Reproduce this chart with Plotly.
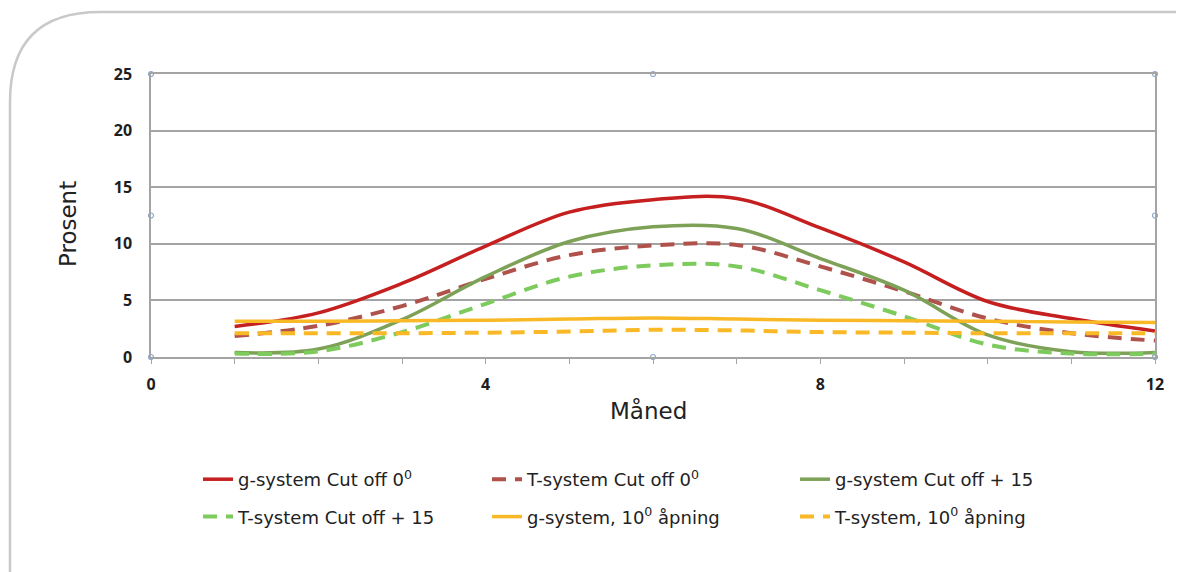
import plotly.graph_objects as go

# ---- data ----
months = list(range(1, 13))
g_cut0 = [2.7, 3.9, 6.5, 9.8, 12.8, 13.9, 14.0, 11.4, 8.4, 4.9, 3.4, 2.3]
t_cut0 = [1.85, 2.75, 4.5, 6.9, 9.0, 9.85, 9.9, 8.0, 5.8, 3.4, 2.1, 1.45]
g_cut15 = [0.4, 0.7, 3.3, 7.1, 10.2, 11.5, 11.35, 8.7, 5.9, 1.95, 0.47, 0.4]
t_cut15 = [0.3, 0.5, 2.2, 4.7, 7.1, 8.1, 8.0, 5.9, 3.6, 1.1, 0.3, 0.3]
g_open10 = [3.15, 3.15, 3.2, 3.25, 3.35, 3.45, 3.35, 3.25, 3.2, 3.15, 3.1, 3.05]
t_open10 = [2.1, 2.1, 2.1, 2.15, 2.25, 2.4, 2.35, 2.2, 2.15, 2.1, 2.1, 2.1]

names = [
    "g-system Cut off 0<sup>0</sup>",
    "T-system Cut off 0<sup>0</sup>",
    "g-system Cut off + 15",
    "T-system Cut off + 15",
    "g-system, 10<sup>0</sup> åpning",
    "T-system, 10<sup>0</sup> åpning",
]
x_ticks = [0, 4, 8, 12]
y_ticks = [0, 5, 10, 15, 20, 25]

# ---- layout geometry (screen pixels; page body has an 8px margin) ----
OFF = 8
W, H = 1184 - OFF, 572 - OFF
L, R, T, B = 151, 1155, 74, 357  # plot area on screen


def px(xs):
    return (xs - L) / (R - L)


def py(ys):
    return (B - ys) / (B - T)


series = [g_cut0, t_cut0, g_cut15, t_cut15, g_open10, t_open10]
colors = ["#c51f1f", "#b0524c", "#7da157", "#7ccb5c", "#f9b926", "#f9b926"]
dashes = ["solid", "14px,9px", "solid", "14px,9px", "solid", "14px,9px"]
legends = ["legend", "legend2", "legend3", "legend", "legend2", "legend3"]

fig = go.Figure()
for i, (ys, c, d, lg, nm) in enumerate(zip(series, colors, dashes, legends, names)):
    fig.add_trace(go.Scatter(
        x=months, y=ys, mode="lines", name=nm,
        line=dict(color=c, width=3.5 if d == "solid" else 4, dash=d,
                  shape="spline", smoothing=1.0),
        legend=lg, legendgroup=f"g{i}", hoverinfo="skip",
    ))

# selection handles at the chart frame (Excel style)
hx = [0, 6, 12, 0, 12, 0, 6, 12]
hy = [25, 25, 25, 12.5, 12.5, 0, 0, 0]
fig.add_trace(go.Scatter(
    x=hx, y=hy, mode="markers", showlegend=False, hoverinfo="skip",
    marker=dict(symbol="circle-open", size=5, color="#8fa9cc", line=dict(width=1.2)),
    cliponaxis=False,
))

gridc = "#a4a4a4"
tickfont = dict(family="Open Sans", size=16, color="#1e1e1e", weight=700)

fig.update_layout(
    width=W, height=H,
    margin=dict(l=L - OFF, r=W - (R - OFF), t=T - OFF, b=H - (B - OFF)),
    paper_bgcolor="white", plot_bgcolor="white",
    showlegend=True,
    xaxis=dict(
        range=[0, 12], tickvals=x_ticks, ticktext=[str(v) for v in x_ticks],
        showgrid=False, zeroline=False,
        showline=True, linecolor=gridc, linewidth=1.5, mirror=True,
        ticks="outside", ticklen=5, tickwidth=1.2, tickcolor=gridc,
        minor=dict(dtick=1, tick0=0, ticks="outside", ticklen=5, tickwidth=1.2, tickcolor=gridc),
        tickfont=tickfont, ticklabelstandoff=7,
    ),
    yaxis=dict(
        range=[0, 25], tickvals=y_ticks, ticktext=[str(v) for v in y_ticks],
        showgrid=True, gridcolor=gridc, gridwidth=1.5, zeroline=False,
        showline=True, linecolor=gridc, linewidth=1.5, mirror=True,
        ticks="", tickfont=tickfont, ticklabelstandoff=14,
    ),
)

legfont = dict(family="DejaVu Sans", size=18, color="#222222")
for key, xl in (("legend", 198), ("legend2", 487), ("legend3", 795)):
    fig.update_layout({key: dict(
        x=px(xl), xanchor="left", y=py(461), yanchor="top",
        orientation="v", font=legfont, bgcolor="rgba(0,0,0,0)",
        tracegroupgap=11, borderwidth=0, itemclick=False, itemdoubleclick=False,
    )})

# axis titles
titlefont = dict(family="DejaVu Sans", size=23, color="#222222")
fig.add_annotation(text="Måned", x=px(648), y=py(410), xref="paper", yref="paper",
                   xanchor="center", yanchor="middle",
                   showarrow=False, font=titlefont)
fig.add_annotation(text="Prosent", x=px(68), y=py(224), xref="paper", yref="paper",
                   xanchor="center", yanchor="middle",
                   showarrow=False, textangle=-90, font=titlefont)

# rounded card outline
path = (f"M {px(1200)},{py(12)} L {px(100)},{py(12)} "
        f"Q {px(10)},{py(12)} {px(10)},{py(102)} L {px(10)},{py(600)}")
fig.add_shape(type="path", path=path, xref="paper", yref="paper",
              line=dict(color="#c9c9c9", width=2.5), layer="below")

fig.write_html("out.html")
